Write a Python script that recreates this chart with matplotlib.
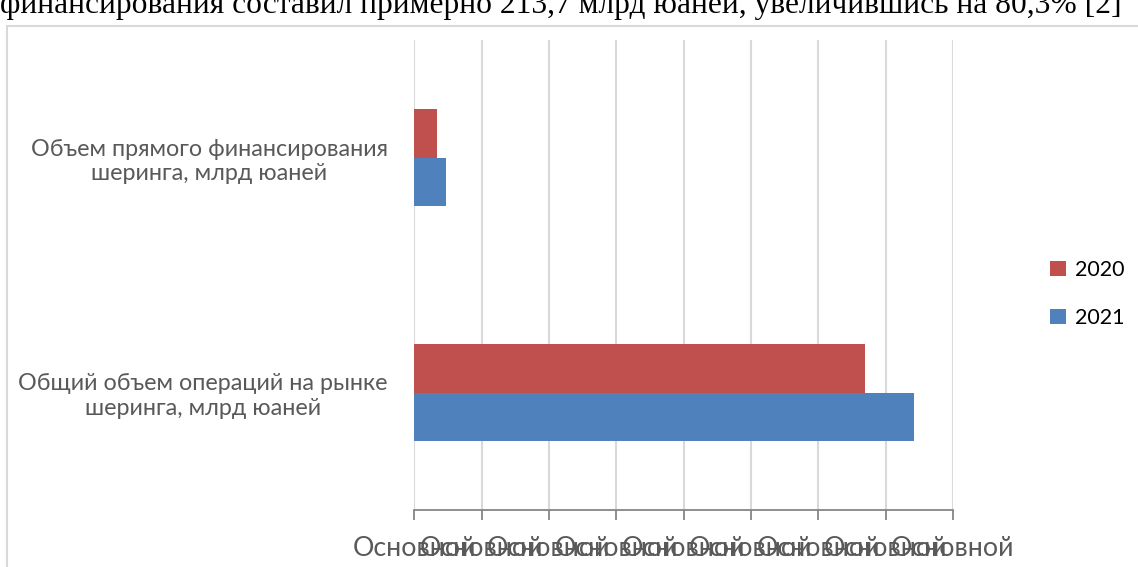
import matplotlib.pyplot as plt
from matplotlib.patches import Rectangle
import numpy as np

categories = ['Общий объем операций на рынке\nшеринга, млрд юаней',
              'Объем прямого финансирования\nшеринга, млрд юаней']
values_2020 = [3350, 168]
values_2021 = [3710, 232]
series_names = ['2020', '2021']
tick_values = [0, 500, 1000, 1500, 2000, 2500, 3000, 3500, 4000]
tick_label = 'Основной'
top_text = 'финансирования составил примерно 213,7 млрд юаней, увеличившись на 80,3% [2]'

red = '#C0504D'
blue = '#4F81BD'
grid = '#D9D9D9'

fig = plt.figure(figsize=(11.38, 5.67), dpi=100)

# clipped line of document text above the chart
fig.text(0.0, 1 - 13 / 567, top_text, family='Liberation Serif', fontsize=22.7,
         color='black', ha='left', va='baseline')

# chart frame
fig.patches.append(Rectangle((7 / 1138, -0.1), 1.2, 1 - 26 / 567 + 0.1,
                             transform=fig.transFigure, fill=False,
                             edgecolor=grid, linewidth=1.5))

ax = fig.add_axes([414.3 / 1138, 57 / 567, 538.7 / 1138, 470 / 567])

y = np.arange(len(categories))
h = 0.205
ax.barh(y + h / 2, values_2020, height=h, color=red, label=series_names[0], zorder=3)
ax.barh(y - h / 2, values_2021, height=h, color=blue, label=series_names[1], zorder=3)

ax.set_xlim(0, 4000)
ax.set_ylim(-0.5, 1.5)
ax.set_xticks(tick_values)
ax.set_xticklabels([tick_label] * len(tick_values), family='Lato', fontsize=19.3,
                   color='#595959')
ax.set_yticks(y)
ax.set_yticklabels(categories, family='Lato', fontsize=16.8, color='#595959',
                   multialignment='center', linespacing=1.2)
ax.tick_params(axis='y', length=0, pad=19)
ax.tick_params(axis='x', length=7, width=1.3, color='#868686', pad=12)

ax.grid(axis='x', color=grid, linewidth=1.5, zorder=0)
for s in ['top', 'right', 'left']:
    ax.spines[s].set_visible(False)
ax.spines['bottom'].set_color('#868686')
ax.spines['bottom'].set_linewidth(1.3)

leg = ax.legend(loc='center left', bbox_to_anchor=(1.145, 0.46), frameon=False,
                prop={'family': 'Lato', 'size': 15.5}, handlelength=0.7,
                handleheight=0.7, handletextpad=0.45, labelspacing=1.3)

fig.savefig('out.png', dpi=100)
